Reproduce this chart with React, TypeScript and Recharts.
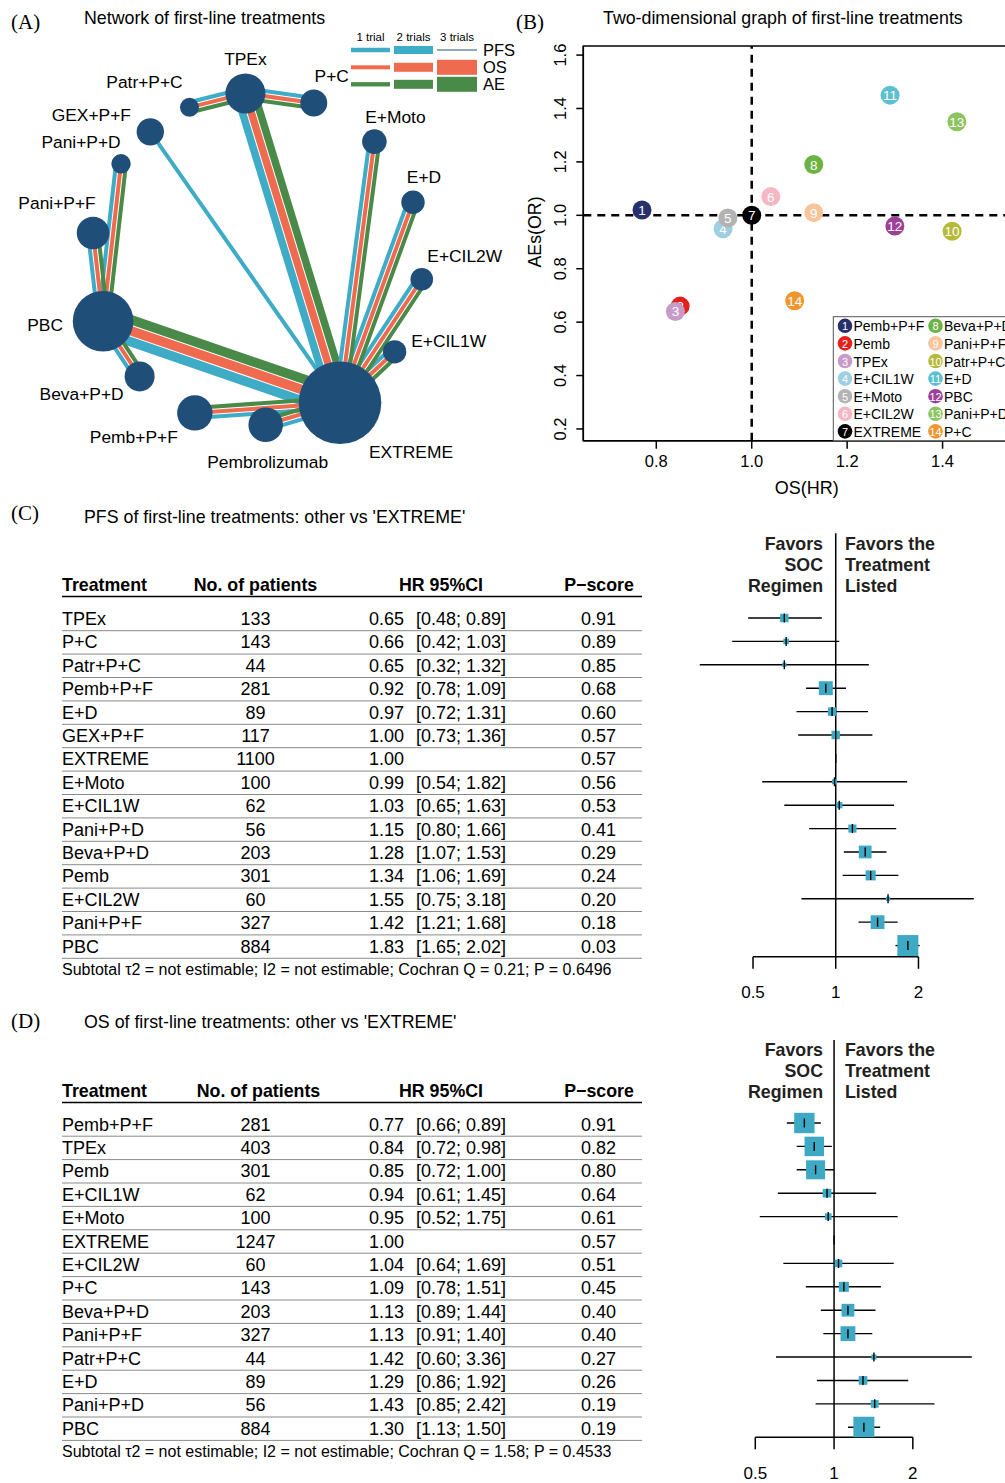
import { ScatterChart, Scatter, XAxis, YAxis, ReferenceLine, ReferenceArea, ErrorBar } from 'recharts'

const SANS = '"Liberation Sans", Arial, Helvetica, sans-serif'
const SERIF = '"Liberation Serif", "Times New Roman", serif'

// ---------- (A) network of first-line treatments ----------
const NET_NODES = ['TPEx', 'P+C', 'E+Moto', 'E+D', 'E+CIL2W', 'E+CIL1W', 'EXTREME', 'Pembrolizumab', 'Pemb+P+F', 'Beva+P+D', 'PBC', 'Pani+P+F', 'Pani+P+D', 'GEX+P+F', 'Patr+P+C']
const NET_ANGLE = [-4, 20, 45, 70, 97, 124, 150, 177, 202, 225, 248, 279, 305, 320, 336]
const NET_SIZE = [20, 13.5, 12.3, 11.7, 11.3, 11.7, 41.3, 17.3, 17.7, 15, 30.3, 16.3, 9.7, 13.7, 9.5]
// from, to, trials for PFS / OS / AE
const NET_EDGES: [string, string, number, number, number][] = [
  ['P+C', 'TPEx', 1, 1, 1],
  ['TPEx', 'Patr+P+C', 1, 1, 1],
  ['TPEx', 'EXTREME', 2, 2, 2],
  ['GEX+P+F', 'EXTREME', 1, 0, 0],
  ['Pani+P+D', 'PBC', 1, 1, 1],
  ['Pani+P+F', 'PBC', 1, 1, 1],
  ['PBC', 'EXTREME', 3, 3, 3],
  ['PBC', 'Beva+P+D', 1, 1, 1],
  ['Pemb+P+F', 'EXTREME', 1, 1, 1],
  ['Pembrolizumab', 'EXTREME', 1, 1, 1],
  ['E+CIL1W', 'EXTREME', 1, 1, 1],
  ['E+CIL2W', 'EXTREME', 1, 1, 1],
  ['E+D', 'EXTREME', 1, 1, 1],
  ['E+Moto', 'EXTREME', 1, 1, 1],
]

// ---------- (B) two-dimensional graph ----------
const TD_NAMES = ['Pemb+P+F', 'Pemb', 'TPEx', 'E+CIL1W', 'E+Moto', 'E+CIL2W', 'EXTREME', 'Beva+P+D', 'Pani+P+F', 'Patr+P+C', 'E+D', 'PBC', 'Pani+P+D', 'P+C']
const TD_OS = [0.77, 0.85, 0.84, 0.94, 0.95, 1.04, 1.0, 1.13, 1.13, 1.42, 1.29, 1.3, 1.43, 1.09]
const TD_AE = [1.02, 0.66, 0.64, 0.95, 0.99, 1.07, 1.0, 1.19, 1.01, 0.94, 1.45, 0.96, 1.35, 0.68]
const TD_X_TICKS = [0.8, 1.0, 1.2, 1.4]
const TD_Y_TICKS = [0.2, 0.4, 0.6, 0.8, 1.0, 1.2, 1.4, 1.6]

// ---------- (C) PFS vs EXTREME ----------
const PFS_NAMES = ['TPEx', 'P+C', 'Patr+P+C', 'Pemb+P+F', 'E+D', 'GEX+P+F', 'EXTREME', 'E+Moto', 'E+CIL1W', 'Pani+P+D', 'Beva+P+D', 'Pemb', 'E+CIL2W', 'Pani+P+F', 'PBC']
const PFS_N = [133, 143, 44, 281, 89, 117, 1100, 100, 62, 56, 203, 301, 60, 327, 884]
const PFS_HR = [0.65, 0.66, 0.65, 0.92, 0.97, 1.0, 1.0, 0.99, 1.03, 1.15, 1.28, 1.34, 1.55, 1.42, 1.83]
const PFS_LO = [0.48, 0.42, 0.32, 0.78, 0.72, 0.73, null, 0.54, 0.65, 0.8, 1.07, 1.06, 0.75, 1.21, 1.65]
const PFS_HI = [0.89, 1.03, 1.32, 1.09, 1.31, 1.36, null, 1.82, 1.63, 1.66, 1.53, 1.69, 3.18, 1.68, 2.02]
const PFS_PSCORE = ['0.91', '0.89', '0.85', '0.68', '0.60', '0.57', '0.57', '0.56', '0.53', '0.41', '0.29', '0.24', '0.20', '0.18', '0.03']
const PFS_WEIGHT = [16, 7, 4, 44, 16, 16, 0, 6, 9, 15, 37, 23, 4, 43, 100]

// ---------- (D) OS vs EXTREME ----------
const OS_NAMES = ['Pemb+P+F', 'TPEx', 'Pemb', 'E+CIL1W', 'E+Moto', 'EXTREME', 'E+CIL2W', 'P+C', 'Beva+P+D', 'Pani+P+F', 'Patr+P+C', 'E+D', 'Pani+P+D', 'PBC']
const OS_N = [281, 403, 301, 62, 100, 1247, 60, 143, 203, 327, 44, 89, 56, 884]
const OS_HR = [0.77, 0.84, 0.85, 0.94, 0.95, 1.0, 1.04, 1.09, 1.13, 1.13, 1.42, 1.29, 1.43, 1.3]
const OS_LO = [0.66, 0.72, 0.72, 0.61, 0.52, null, 0.64, 0.78, 0.89, 0.91, 0.6, 0.86, 0.85, 1.13]
const OS_HI = [0.89, 0.98, 1.0, 1.45, 1.75, null, 1.69, 1.51, 1.44, 1.4, 3.36, 1.92, 2.42, 1.5]
const OS_PSCORE = ['0.91', '0.82', '0.80', '0.64', '0.61', '0.57', '0.51', '0.45', '0.40', '0.40', '0.27', '0.26', '0.19', '0.19']
const OS_WEIGHT = [94, 86, 82, 17, 10, 0, 13, 23, 37, 50, 6, 17, 14, 100]

const FOREST_TICKS = [0.5, 1, 2]

// styles
const NODE_FILL = '#1f4e79'
const EDGE_COLORS = ['#3eabc7', '#ef6b50', '#4a8a48']
const TRIAL_WIDTH = [0, 4, 7.5, 9.5]
const RING = 166
const TD_COLORS = ['#27306b', '#e2211c', '#c69bc9', '#9dcfe1', '#b3b3b3', '#f5b7c3', '#000000', '#6bb345', '#f8c49c', '#b6ba3a', '#5dc0cf', '#9c3f97', '#8cc45f', '#f0962e']
const BOX_COLOR = '#3ea9c5'
const LABEL_OFFSET: Record<string, [number, number]> = {
  'TPEx': [0, -34], 'P+C': [18, -27], 'Patr+P+C': [-45, -25], 'GEX+P+F': [-59, -17],
  'Pani+P+D': [-40, -22], 'Pani+P+F': [-36, -30], 'PBC': [-58, 4], 'Beva+P+D': [-58, 18],
  'Pemb+P+F': [-61, 24], 'Pembrolizumab': [2, 37], 'EXTREME': [71, 49], 'E+CIL1W': [54, -11],
  'E+CIL2W': [43, -23], 'E+D': [11, -25], 'E+Moto': [21, -25],
}

function nodePos(name: string) {
  const i = NET_NODES.indexOf(name)
  const a = (NET_ANGLE[i] * Math.PI) / 180
  return { x: RING * Math.sin(a), y: RING * Math.cos(a) }
}

const nodeData = NET_NODES.map((name, i) => ({ name, ...nodePos(name), r: NET_SIZE[i] }))

const edgeLines = NET_EDGES.flatMap(([from, to, ...trials]) => {
  const a = nodePos(from)
  const b = nodePos(to)
  const dx = b.x - a.x
  const dy = b.y - a.y
  const len = Math.hypot(dx, dy)
  const nx = -dy / len
  const ny = dx / len
  const active = trials.map((t, k) => ({ k, w: TRIAL_WIDTH[t] })).filter(o => o.w > 0)
  const gap = 1
  const total = active.reduce((s, o) => s + o.w, 0) + gap * (active.length - 1)
  let off = -total / 2
  return active.map(o => {
    const c = off + o.w / 2
    off += o.w + gap
    return {
      color: EDGE_COLORS[o.k],
      w: o.w,
      pts: [{ x: a.x + nx * c, y: a.y + ny * c }, { x: b.x + nx * c, y: b.y + ny * c }],
    }
  })
})

const EmptyShape = () => <g />

function NodeShape(props: any) {
  const { cx, cy, payload } = props
  const [ox, oy] = LABEL_OFFSET[payload.name]
  return (
    <g>
      <circle cx={cx} cy={cy} r={payload.r} fill={NODE_FILL} />
      <text x={cx + ox} y={cy + oy} textAnchor="middle" dominantBaseline="central" fontSize={17.4} fontFamily={SANS} fill="#000">
        {payload.name}
      </text>
    </g>
  )
}

function NetworkChart() {
  return (
    <ScatterChart width={520} height={480} margin={{ top: 0, right: 0, bottom: 0, left: 0 }}>
      <XAxis type="number" dataKey="x" domain={[-257, 263]} allowDataOverflow hide />
      <YAxis type="number" dataKey="y" domain={[-221, 259]} allowDataOverflow hide />
      {edgeLines.map((l, i) => (
        <Scatter key={i} data={l.pts} line={{ stroke: l.color, strokeWidth: l.w }} shape={EmptyShape} isAnimationActive={false} legendType="none" />
      ))}
      <Scatter data={nodeData} shape={NodeShape} isAnimationActive={false} legendType="none" />
    </ScatterChart>
  )
}

// ---------- (B) ----------
const tdData = TD_NAMES.map((name, i) => ({ id: i + 1, name, os: TD_OS[i], ae: TD_AE[i], color: TD_COLORS[i] }))

function NumberedDot(props: any) {
  const { cx, cy, payload } = props
  return (
    <g>
      <circle cx={cx} cy={cy} r={9.5} fill={payload.color} />
      <text x={cx} y={cy + 0.5} textAnchor="middle" dominantBaseline="central" fill="#fff" fontSize={13.5} fontFamily={SANS}>
        {payload.id}
      </text>
    </g>
  )
}

function RotatedTick(props: any) {
  const { x, y, payload } = props
  const cx = x - 14
  return (
    <text x={cx} y={y} textAnchor="middle" dominantBaseline="central" transform={`rotate(-90 ${cx} ${y})`} fontSize={16.5} fontFamily={SANS} fill="#000">
      {payload.value.toFixed(1)}
    </text>
  )
}

function TwoDimChart() {
  return (
    <ScatterChart width={518} height={500} margin={{ top: 46, right: 0, bottom: 0, left: 0 }}>
      <XAxis
        type="number" dataKey="os" domain={[0.647, 1.6]} allowDataOverflow ticks={TD_X_TICKS} interval={0}
        tickFormatter={(v: number) => v.toFixed(1)} height={59.3} tickSize={8} tickMargin={7}
        stroke="#000" strokeWidth={1.5} tick={{ fill: '#000', fontSize: 16.5, fontFamily: SANS }}
        label={{ content: (p: any) => (
          <text x={p.viewBox.x + p.viewBox.width / 2 - 4} y={p.viewBox.y + 47} textAnchor="middle" dominantBaseline="central" fontSize={18} fontFamily={SANS}>OS(HR)</text>
        ) }}
      />
      <YAxis
        type="number" dataKey="ae" domain={[0.156, 1.634]} allowDataOverflow ticks={TD_Y_TICKS} interval={0}
        width={63.3} tickSize={7} tickMargin={2} stroke="#000" strokeWidth={1.5} tick={<RotatedTick />}
        label={{ content: () => (
          <text x={15} y={232} textAnchor="middle" dominantBaseline="central" transform="rotate(-90 15 232)" fontSize={17.8} fontFamily={SANS}>AEs(OR)</text>
        ) }}
      />
      <ReferenceArea x1={0.647} x2={1.6} y1={0.156} y2={1.634} fill="none" stroke="#000" strokeWidth={1.5} ifOverflow="visible" />
      <ReferenceLine x={1} stroke="#000" strokeWidth={2.5} strokeDasharray="8 6" />
      <ReferenceLine y={1} stroke="#000" strokeWidth={2.5} strokeDasharray="8 6" />
      <Scatter data={tdData} shape={NumberedDot} isAnimationActive={false} legendType="none" />
    </ScatterChart>
  )
}

// ---------- forest plots ----------
function ForestTick(props: any) {
  const { x, y, payload } = props
  return (
    <g>
      <line x1={x} x2={x} y1={y} y2={y + 12} stroke="#000" strokeWidth={1.5} />
      <text x={x} y={y + 36} textAnchor="middle" dominantBaseline="central" fontSize={17} fontFamily={SANS} fill="#000">
        {payload.value}
      </text>
    </g>
  )
}

function SquareShape(props: any) {
  const { cx, cy, payload } = props
  const s = 21 * Math.sqrt(payload.w / 100)
  if (!s) return <g />
  return <rect x={cx - s / 2} y={cy - s / 2} width={s} height={s} fill={BOX_COLOR} />
}

function TickShape(props: any) {
  const { cx, cy } = props
  return <line x1={cx} x2={cx} y1={cy - 4.5} y2={cy + 4.5} stroke="#000" strokeWidth={1.4} />
}

function ForestPlot({ names, hr, lo, hi, weight, height, top, axisH, xDomain, yDomain }: any) {
  const data = names.map((name: string, i: number) => ({
    name,
    row: i + 1,
    hr: hr[i],
    w: weight[i],
    err: [hr[i] - (lo[i] ?? hr[i]), (hi[i] ?? hr[i]) - hr[i]],
  }))
  return (
    <ScatterChart width={315} height={height} margin={{ top, right: 0, bottom: 0, left: 0 }}>
      <XAxis
        type="number" dataKey="hr" scale="log" domain={xDomain} allowDataOverflow ticks={FOREST_TICKS} interval={0}
        axisLine={false} tickLine={false} tickSize={0} tickMargin={0} height={axisH} tick={<ForestTick />}
      />
      <YAxis type="number" dataKey="row" domain={yDomain} allowDataOverflow reversed hide />
      <ReferenceLine x={1} stroke="#000" strokeWidth={1.5} />
      <ReferenceLine segment={[{ x: 0.5, y: yDomain[1] }, { x: 2, y: yDomain[1] }]} stroke="#000" strokeWidth={1.5} ifOverflow="visible" />
      <Scatter data={data} shape={SquareShape} isAnimationActive={false} legendType="none" />
      <Scatter data={data} shape={TickShape} isAnimationActive={false} legendType="none">
        <ErrorBar dataKey="err" direction="x" width={0} stroke="#000" strokeWidth={1.4} />
      </Scatter>
    </ScatterChart>
  )
}

// ---------- static text (tables, titles, legends) ----------
function TableBlock({ names, n, hr, lo, hi, ps, headerY, rowY, footer, patientsHeaderX }: any) {
  const rows = names.map((name: string, i: number) => {
    const y = rowY + i * 23.4
    return (
      <g key={name + i} fontSize={18} fontFamily={SANS} fill="#000">
        <text x={62} y={y} dominantBaseline="central">{name}</text>
        <text x={255.5} y={y} textAnchor="middle" dominantBaseline="central">{n[i]}</text>
        <text x={404} y={y} textAnchor="end" dominantBaseline="central">{hr[i].toFixed(2)}</text>
        {lo[i] != null && (
          <text x={416} y={y} dominantBaseline="central">{`[${lo[i].toFixed(2)}; ${hi[i].toFixed(2)}]`}</text>
        )}
        <text x={598.5} y={y} textAnchor="middle" dominantBaseline="central">{ps[i]}</text>
        <line x1={62} x2={642} y1={y + 11.7} y2={y + 11.7} stroke="#8a8a8a" strokeWidth={1} />
      </g>
    )
  })
  const lastY = rowY + (names.length - 1) * 23.4
  return (
    <g>
      <g fontSize={17.8} fontWeight={700} fontFamily={SANS} fill="#000">
        <text x={62} y={headerY} dominantBaseline="central">Treatment</text>
        <text x={patientsHeaderX} y={headerY} textAnchor="middle" dominantBaseline="central">No. of patients</text>
        <text x={441} y={headerY} textAnchor="middle" dominantBaseline="central">HR 95%CI</text>
        <text x={599} y={headerY} textAnchor="middle" dominantBaseline="central">P−score</text>
      </g>
      <line x1={62} x2={642} y1={headerY + 11.5} y2={headerY + 11.5} stroke="#000" strokeWidth={1.5} />
      {rows}
      <text x={62} y={lastY + 23} dominantBaseline="central" fontSize={16} fontFamily={SANS} fill="#000">{footer}</text>
    </g>
  )
}

function Favors({ y }: { y: number }) {
  const lines = [['Favors', 'Favors the'], ['SOC', 'Treatment'], ['Regimen', 'Listed']]
  return (
    <g fontSize={17.8} fontWeight={700} fontFamily={SANS} fill="#231f20">
      {lines.map(([l, r], i) => (
        <g key={i}>
          <text x={823} y={y + i * 21.2} textAnchor="end" dominantBaseline="central">{l}</text>
          <text x={845} y={y + i * 21.2} dominantBaseline="central">{r}</text>
        </g>
      ))}
    </g>
  )
}

function NetworkLegend() {
  const cols = [{ x: 351, w: 39, label: '1 trial' }, { x: 394, w: 39, label: '2 trials' }, { x: 437, w: 40, label: '3 trials' }]
  const rows = [
    { y: 50, label: 'PFS', color: EDGE_COLORS[0], h: [4.5, 8, 2], third: '#8fa9b6' },
    { y: 67.3, label: 'OS', color: EDGE_COLORS[1], h: [4, 9, 15], third: EDGE_COLORS[1] },
    { y: 84.3, label: 'AE', color: EDGE_COLORS[2], h: [4.3, 9, 15], third: EDGE_COLORS[2] },
  ]
  return (
    <g fontFamily={SANS}>
      {cols.map(c => (
        <text key={c.label} x={c.x + c.w / 2} y={36.5} textAnchor="middle" dominantBaseline="central" fontSize={11.5}>{c.label}</text>
      ))}
      {rows.map(r => (
        <g key={r.label}>
          {cols.map((c, k) => (
            <rect key={k} x={c.x} y={r.y - r.h[k] / 2} width={c.w} height={r.h[k]} fill={k === 2 ? r.third : r.color} />
          ))}
          <text x={483} y={r.y} dominantBaseline="central" fontSize={16.5}>{r.label}</text>
        </g>
      ))}
    </g>
  )
}

function TwoDimLegend() {
  return (
    <g fontFamily={SANS}>
      <rect x={833.3} y={316.7} width={200} height={124} fill="#fff" stroke="#555" strokeWidth={1} />
      {TD_NAMES.map((name, i) => {
        const col = i < 7 ? 0 : 1
        const row = i % 7
        const cx = col === 0 ? 845 : 935.5
        const cy = 325.8 + row * 17.6
        return (
          <g key={name}>
            <circle cx={cx} cy={cy} r={7.3} fill={TD_COLORS[i]} />
            <text x={cx} y={cy + 0.5} textAnchor="middle" dominantBaseline="central" fontSize={11} fill="#fff">{i + 1}</text>
            <text x={cx + 8.5} y={cy + 0.5} dominantBaseline="central" fontSize={14}>{name}</text>
          </g>
        )
      })}
    </g>
  )
}

function Overlay() {
  const title = { fontSize: 17.8, fontFamily: SANS, fill: '#000' }
  const letter = { fontSize: 21, fontFamily: SERIF, fill: '#000' }
  return (
    <svg width={1005} height={1483} style={{ position: 'absolute', left: 0, top: 0, pointerEvents: 'none' }}>
      <text x={11} y={22} dominantBaseline="central" {...letter}>(A)</text>
      <text x={84} y={18} dominantBaseline="central" {...title}>Network of first-line treatments</text>
      <text x={516} y={22} dominantBaseline="central" {...letter}>(B)</text>
      <text x={603} y={18} dominantBaseline="central" {...title}>Two-dimensional graph of first-line treatments</text>
      <text x={11} y={513} dominantBaseline="central" {...letter}>(C)</text>
      <text x={84} y={517} dominantBaseline="central" {...title}>PFS of first-line treatments: other vs 'EXTREME'</text>
      <text x={11} y={1021} dominantBaseline="central" {...letter}>(D)</text>
      <text x={84} y={1022} dominantBaseline="central" {...title}>OS of first-line treatments: other vs 'EXTREME'</text>
      <NetworkLegend />
      <TwoDimLegend />
      <TableBlock
        names={PFS_NAMES} n={PFS_N} hr={PFS_HR} lo={PFS_LO} hi={PFS_HI} ps={PFS_PSCORE}
        headerY={585} rowY={619} patientsHeaderX={255.5}
        footer="Subtotal τ2 = not estimable; I2 = not estimable; Cochran Q = 0.21; P = 0.6496"
      />
      <TableBlock
        names={OS_NAMES} n={OS_N} hr={OS_HR} lo={OS_LO} hi={OS_HI} ps={OS_PSCORE}
        headerY={1091} rowY={1124.5} patientsHeaderX={258.5}
        footer="Subtotal τ2 = not estimable; I2 = not estimable; Cochran Q = 1.58; P = 0.4533"
      />
      <Favors y={543.5} />
      <Favors y={1049.5} />
    </svg>
  )
}

export default function App() {
  return (
    <div style={{ position: 'absolute', left: 0, top: 0, width: 1005, height: 1483, overflow: 'hidden', background: '#fff' }}>
      <div style={{ position: 'absolute', left: 0, top: 0 }}>
        <NetworkChart />
      </div>
      <div style={{ position: 'absolute', left: 520, top: 0 }}>
        <TwoDimChart />
      </div>
      <div style={{ position: 'absolute', left: 690, top: 520 }}>
        <ForestPlot
          names={PFS_NAMES} hr={PFS_HR} lo={PFS_LO} hi={PFS_HI} weight={PFS_WEIGHT}
          height={490} top={13.3} axisH={53.2} xDomain={[0.2949, 4.13]} yDomain={[-2.62, 15.48]}
        />
      </div>
      <div style={{ position: 'absolute', left: 690, top: 1030 }}>
        <ForestPlot
          names={OS_NAMES} hr={OS_HR} lo={OS_LO} hi={OS_HI} weight={OS_WEIGHT}
          height={453} top={10} axisH={45.7} xDomain={[0.2815, 4.5]} yDomain={[-2.547, 14.43]}
        />
      </div>
      <Overlay />
    </div>
  )
}
